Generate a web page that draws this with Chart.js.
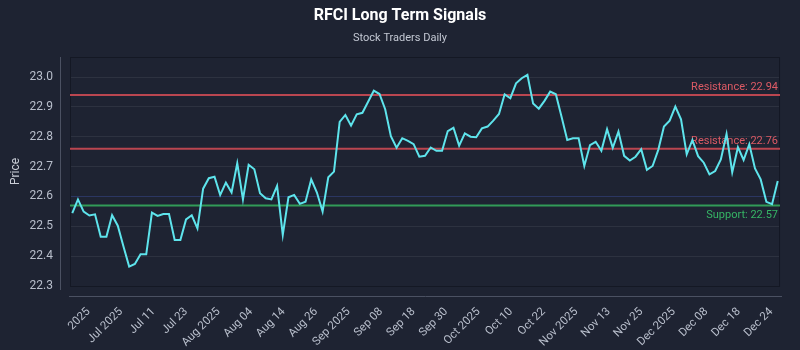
<!DOCTYPE html>
<html>
<head>
<meta charset="utf-8">
<script src="https://cdn.jsdelivr.net/npm/chart.js@4.4.1/dist/chart.umd.min.js"></script>
<style>
  body { margin: 0; background: #1e2332; }
  #wrap { width: 800px; height: 350px; }
</style>
</head>
<body>
<div id="wrap"><canvas id="chart" width="800" height="350"></canvas></div>
<script>
// closing prices, one per session
var prices = [
  22.544, 22.590, 22.549, 22.536, 22.540, 22.465, 22.465, 22.537, 22.502, 22.432,
  22.365, 22.374, 22.406, 22.406, 22.546, 22.535, 22.541, 22.541, 22.454, 22.454,
  22.523, 22.537, 22.493, 22.626, 22.661, 22.666, 22.605, 22.646, 22.613, 22.711,
  22.590, 22.706, 22.691, 22.611, 22.594, 22.590, 22.635, 22.471, 22.597, 22.605,
  22.575, 22.582, 22.657, 22.613, 22.549, 22.664, 22.683, 22.850, 22.873, 22.837,
  22.875, 22.880, 22.917, 22.954, 22.943, 22.892, 22.802, 22.763, 22.795, 22.786,
  22.775, 22.733, 22.736, 22.764, 22.753, 22.753, 22.819, 22.830, 22.770, 22.811,
  22.800, 22.798, 22.828, 22.834, 22.854, 22.876, 22.942, 22.929, 22.979, 22.996,
  23.007, 22.911, 22.894, 22.920, 22.951, 22.942, 22.867, 22.789, 22.795, 22.795,
  22.702, 22.772, 22.783, 22.753, 22.825, 22.763, 22.817, 22.736, 22.720, 22.733,
  22.758, 22.689, 22.702, 22.756, 22.834, 22.854, 22.901, 22.858, 22.741, 22.789,
  22.735, 22.713, 22.674, 22.685, 22.724, 22.809, 22.681, 22.765, 22.722, 22.775,
  22.694, 22.657, 22.582, 22.574, 22.652
];

var xTickLabels = ['2025', 'Jul 2025', 'Jul 11', 'Jul 23', 'Aug 2025', 'Aug 04', 'Aug 14', 'Aug 26',
  'Sep 2025', 'Sep 08', 'Sep 18', 'Sep 30', 'Oct 2025', 'Oct 10', 'Oct 22', 'Nov 2025',
  'Nov 13', 'Nov 25', 'Dec 2025', 'Dec 08', 'Dec 18', 'Dec 24'];

var yTicks = [22.3, 22.4, 22.5, 22.6, 22.7, 22.8, 22.9, 23.0];

var resistance = [22.94, 22.76];
var support = [22.57];

var points = prices.map(function(p, i){ return { x: i, y: p }; });

// support / resistance lines + frame
var levelsPlugin = {
  id: 'levels',
  beforeDatasetsDraw: function(chart){
    var ctx = chart.ctx, a = chart.chartArea, y = chart.scales.y;
    ctx.save();
    // chart frame
    ctx.strokeStyle = '#141824';
    ctx.lineWidth = 1;
    ctx.strokeRect(a.left + 0.5, a.top + 0.5, a.right - a.left - 1, a.bottom - a.top);
    // detached axis lines
    ctx.strokeStyle = '#4b5162';
    ctx.beginPath();
    ctx.moveTo(a.left - 9.5, a.top);
    ctx.lineTo(a.left - 9.5, a.bottom + 4);
    ctx.moveTo(a.left - 1, a.bottom + 10.5);
    ctx.lineTo(a.right + 2, a.bottom + 10.5);
    ctx.stroke();

    ctx.font = '11px Roboto';
    ctx.textAlign = 'right';
    ctx.lineWidth = 2;
    resistance.forEach(function(v){
      var py = y.getPixelForValue(v);
      ctx.strokeStyle = 'rgba(214, 76, 86, 0.85)';
      ctx.beginPath(); ctx.moveTo(a.left, py); ctx.lineTo(a.right, py); ctx.stroke();
      ctx.fillStyle = '#dd5a65';
      ctx.textBaseline = 'bottom';
      ctx.fillText('Resistance: ' + v.toFixed(2), a.right - 2, py - 2);
    });
    support.forEach(function(v){
      var py = y.getPixelForValue(v);
      ctx.strokeStyle = 'rgba(52, 168, 92, 0.9)';
      ctx.beginPath(); ctx.moveTo(a.left, py); ctx.lineTo(a.right, py); ctx.stroke();
      ctx.fillStyle = '#36b565';
      ctx.textBaseline = 'top';
      ctx.fillText('Support: ' + v.toFixed(2), a.right - 2, py + 4);
    });
    ctx.restore();
  }
};

new Chart(document.getElementById('chart'), {
  type: 'line',
  data: {
    datasets: [{
      label: 'RFCI',
      data: points,
      borderColor: '#5ee4ec',
      borderWidth: 2,
      pointRadius: 0,
      tension: 0,
      fill: false
    }]
  },
  options: {
    responsive: false,
    animation: false,
    layout: { padding: { left: 0, right: 0, top: 0, bottom: 0 } },
    plugins: {
      legend: { display: false },
      tooltip: { enabled: false },
      title: {
        display: true,
        text: 'RFCI Long Term Signals',
        color: '#ffffff',
        font: { family: 'Roboto', size: 16, weight: 'bold' },
        padding: { top: 6, bottom: 4 }
      },
      subtitle: {
        display: true,
        text: 'Stock Traders Daily',
        color: '#c3c8d3',
        font: { family: 'Roboto', size: 11 },
        padding: { top: 2, bottom: 12.6 }
      }
    },
    scales: {
      x: {
        type: 'linear',
        min: -0.4,
        max: prices.length - 1 + 0.4,
        grid: { display: false, drawTicks: false },
        border: { display: false },
        afterFit: function(s){ s.height = 64; },
        afterBuildTicks: function(s){
          var span = prices.length - 1;
          var step = span / (xTickLabels.length - 0.3);
          s.ticks = xTickLabels.map(function(t, i){ return { value: 0.5 * step + i * step }; });
        },
        ticks: {
          autoSkip: false,
          maxRotation: 45,
          minRotation: 45,
          padding: 19,
          color: '#b9bfcc',
          font: { family: 'Roboto', size: 11.5 },
          callback: function(v, i){ return xTickLabels[i]; }
        }
      },
      y: {
        min: 22.3,
        max: 23.067,
        afterFit: function(s){ s.width = 70; },
        afterBuildTicks: function(s){
          s.ticks = yTicks.map(function(v){ return { value: v }; });
        },
        grid: {
          drawTicks: false,
          color: function(c){
            if (c.tick && Math.abs(c.tick.value - 22.6) < 1e-6) return 'rgba(70, 92, 190, 0.35)';
            return 'rgba(255, 255, 255, 0.07)';
          }
        },
        border: { display: false },
        title: {
          display: true,
          text: 'Price',
          color: '#c9cdd6',
          font: { family: 'Roboto', size: 12 },
          padding: { top: 9, bottom: 0 }
        },
        ticks: {
          padding: 17,
          color: '#b9bfcc',
          font: { family: 'Roboto', size: 12 },
          callback: function(v){ return Number(v).toFixed(1); }
        }
      }
    }
  },
  plugins: [levelsPlugin]
});
</script>
</body>
</html>
